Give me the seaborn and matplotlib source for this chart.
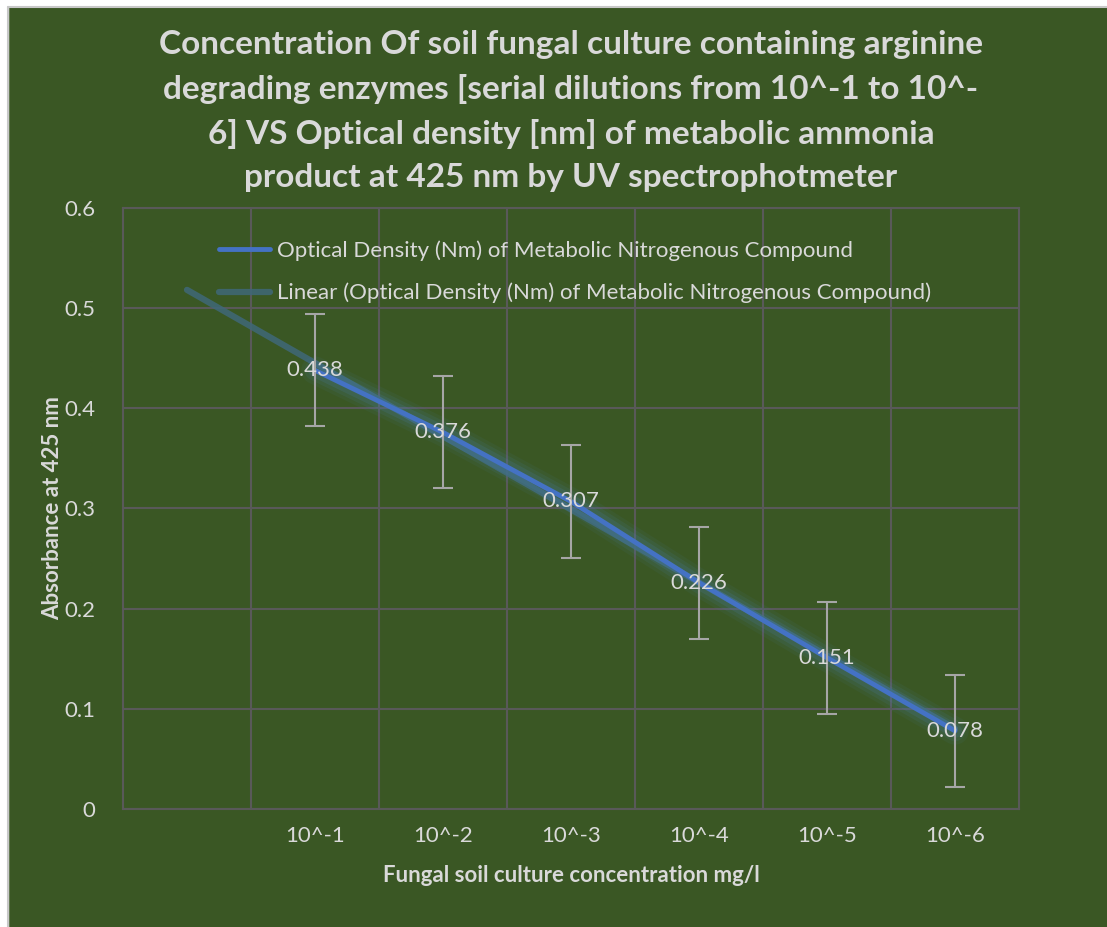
import numpy as np
import pandas as pd
import seaborn as sns
import matplotlib.pyplot as plt
from matplotlib.patches import Rectangle

dilutions = ["10^-1", "10^-2", "10^-3", "10^-4", "10^-5", "10^-6"]
absorbance = [0.438, 0.376, 0.307, 0.226, 0.151, 0.078]
error = [0.056, 0.056, 0.056, 0.056, 0.056, 0.056]

bg = "#3A5724"
txt = "#D9D9D9"
grid = "#595959"
blue = "#4472C4"

sns.set_theme(style="white")
plt.rcParams["font.family"] = ["Lato", "DejaVu Sans"]

df = pd.DataFrame({"x": np.arange(len(dilutions)), "y": absorbance, "err": error})

fig = plt.figure(figsize=(11.07, 9.27), dpi=100, facecolor=bg)
# light frame at top/left like the cropped screenshot
fig.patches.append(Rectangle((0, 1 - 6 / 927), 1, 6 / 927, transform=fig.transFigure, color="white", zorder=-5))
fig.patches.append(Rectangle((0, 0), 8 / 1107, 1, transform=fig.transFigure, color="white", zorder=-5))
fig.lines.append(plt.Line2D([8 / 1107, 1], [1 - 6.5 / 927] * 2, transform=fig.transFigure, color="#C8C8C8", lw=1.5))
fig.lines.append(plt.Line2D([8 / 1107] * 2, [0, 1 - 6.5 / 927], transform=fig.transFigure, color="#C8C8C8", lw=1.5))

ax = fig.add_axes([123 / 1107, 1 - 809 / 927, (1019 - 123) / 1107, (809 - 208) / 927])
ax.set_facecolor(bg)

# trend line with one period backward forecast
slope, icpt = np.polyfit(df["x"] + 1, df["y"], 1)
tx = np.array([-1, len(dilutions) - 1])
trend = pd.DataFrame({"x": tx, "y": slope * (tx + 1) + icpt})
sns.lineplot(data=trend, x="x", y="y", ax=ax, color="#3F6878", lw=4.5, alpha=0.85, zorder=3,
             label="Linear (Optical Density (Nm) of Metabolic Nitrogenous Compound)")

# glow
for w, a in [(20, 0.08), (15, 0.12), (10, 0.18)]:
    ax.plot(df["x"], df["y"], color="#4A7FA8", lw=w, alpha=a, solid_capstyle="round", zorder=4)
sns.lineplot(data=df, x="x", y="y", ax=ax, color=blue, lw=3.5, zorder=5,
             label="Optical Density (Nm) of Metabolic Nitrogenous Compound")

ax.errorbar(df["x"], df["y"], yerr=df["err"], fmt="none", ecolor="#A6A6A6", elinewidth=1.5,
            capsize=7, capthick=1.5, zorder=6)

for xi, yi in zip(df["x"], df["y"]):
    ax.text(xi, yi, str(yi), ha="center", va="center", color=txt, fontsize=16, zorder=7)

ax.set_xlim(-1.5, 5.5)
ax.set_ylim(0, 0.6)
ax.set_yticks(np.arange(0, 0.61, 0.1))
ax.set_yticklabels(["0", "0.1", "0.2", "0.3", "0.4", "0.5", "0.6"])
ax.set_xticks(df["x"])
ax.set_xticklabels(dilutions)
ax.set_xticks(np.arange(-0.5, 5, 1), minor=True)
ax.tick_params(axis="both", which="both", length=0, colors=txt, labelsize=16)
ax.tick_params(axis="x", pad=12)
ax.tick_params(axis="y", pad=20)
ax.grid(axis="y", which="major", color=grid, lw=1.5)
ax.grid(axis="x", which="minor", color=grid, lw=1.5)
ax.grid(axis="x", which="major", visible=False)
for s in ax.spines.values():
    s.set_color(grid)
    s.set_linewidth(1.5)

ax.set_xlabel("Fungal soil culture concentration mg/l", color=txt, fontsize=16, fontweight="bold", labelpad=14)
ax.set_ylabel("Absorbance at 425 nm", color=txt, fontsize=16, fontweight="bold", labelpad=1)

h, l = ax.get_legend_handles_labels()
leg = ax.legend(h[::-1], l[::-1], loc="upper left", bbox_to_anchor=(0.085, 0.98), frameon=False,
                fontsize=16, handlelength=2.3, handletextpad=0.3, labelspacing=1.0)
for t in leg.get_texts():
    t.set_color(txt)

fig.text(571 / 1107, 1 - 111 / 927,
         "Concentration Of soil fungal culture containing arginine\n"
         "degrading enzymes [serial dilutions from 10^-1 to 10^-\n"
         "6] VS Optical density [nm] of metabolic ammonia\n"
         "product at 425 nm by UV spectrophotmeter",
         ha="center", va="center", color=txt, fontsize=24, fontweight="bold", linespacing=1.6)

fig.savefig("out.png", dpi=100, facecolor=bg)
